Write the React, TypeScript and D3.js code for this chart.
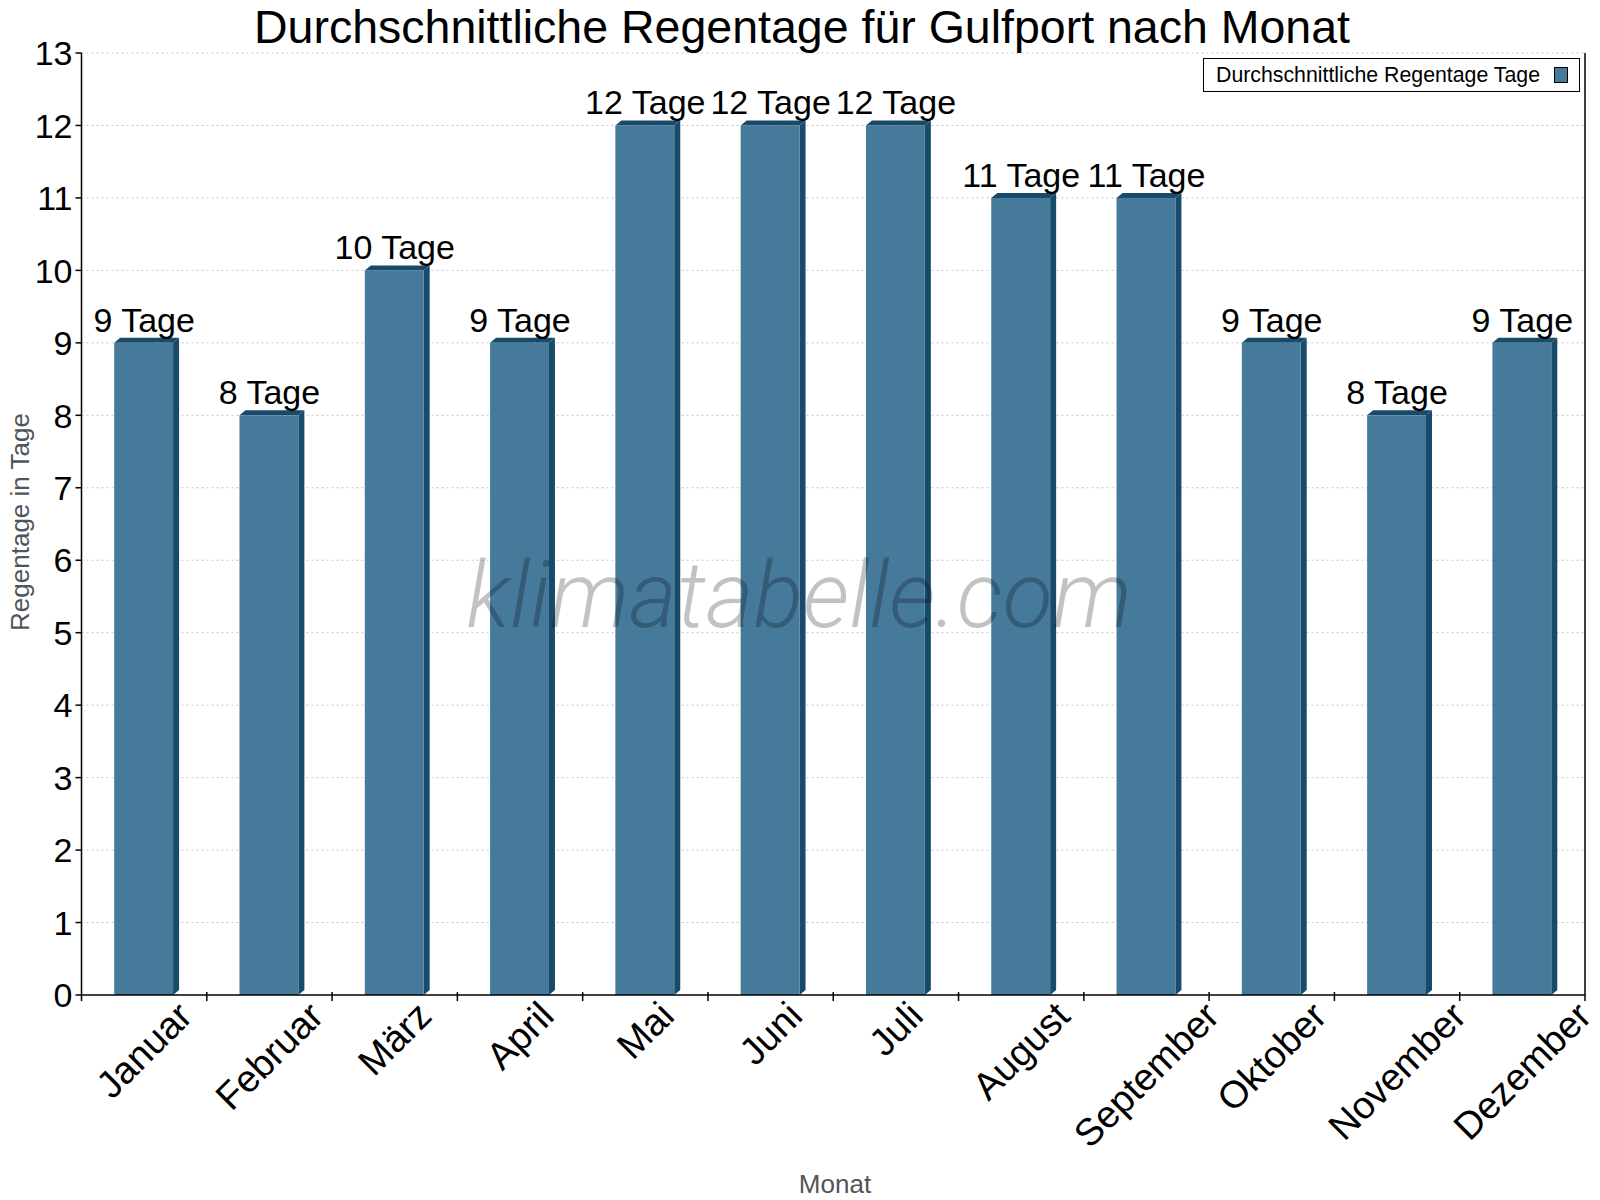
import React, {useEffect, useRef} from "react";
import * as d3 from "d3";

// Durchschnittliche Regentage, Gulfport
const months = ["Januar", "Februar", "März", "April", "Mai", "Juni", "Juli", "August", "September", "Oktober", "November", "Dezember"];
const rainDays = [9, 8, 10, 9, 12, 12, 12, 11, 11, 9, 8, 9];
const yTicks = [0, 1, 2, 3, 4, 5, 6, 7, 8, 9, 10, 11, 12, 13];

const title = "Durchschnittliche Regentage für Gulfport nach Monat";
const seriesName = "Durchschnittliche Regentage Tage";
const unit = "Tage";

const FONT = "'Liberation Sans', Arial, sans-serif";
const FRONT = "#467a9b";
const DARK = "#184a6b";

const W = 1600, H = 1200;
const left = 81.5, right = 1585, top = 53, bottom = 995;
const depthX = 6, depthY = 5;

const App = () => {
    const ref = useRef<SVGSVGElement>(null);

    useEffect(() => {
        const svg = d3.select(ref.current);
        svg.selectAll("*").remove();

        const x = d3.scaleBand<string>().domain(months).range([left, right]).padding(0);
        const y = d3.scaleLinear().domain([0, 13]).range([bottom, top]);
        const frontW = x.bandwidth() * 0.47;

        // grid
        svg.append("g").selectAll("line").data(yTicks.filter(d => d > 0)).join("line")
            .attr("x1", left).attr("x2", right)
            .attr("y1", d => y(d)).attr("y2", d => y(d))
            .attr("stroke", "#c4c4c4").attr("stroke-width", 1)
            .attr("stroke-dasharray", "2,3");

        // bars (pseudo 3d)
        const bars = svg.append("g").selectAll("g").data(months).join("g");
        bars.each(function (m, i) {
            const g = d3.select(this);
            const cx = x(m)! + x.bandwidth() / 2;
            const x0 = cx - frontW / 2 - 0.5, x1 = x0 + frontW;
            const yv = y(rainDays[i]);
            g.append("polygon")
                .attr("points", [[x1, yv], [x1 + depthX, yv - depthY], [x1 + depthX, bottom - depthY], [x1, bottom]].map(p => p.join(",")).join(" "))
                .attr("fill", DARK);
            g.append("polygon")
                .attr("points", [[x0, yv], [x0 + depthX, yv - depthY], [x1 + depthX, yv - depthY], [x1, yv]].map(p => p.join(",")).join(" "))
                .attr("fill", DARK);
            g.append("rect")
                .attr("x", x0).attr("y", yv)
                .attr("width", frontW).attr("height", bottom - yv)
                .attr("fill", FRONT);
        });

        // watermark
        svg.append("text")
            .attr("x", 799).attr("y", 627)
            .attr("text-anchor", "middle")
            .attr("font-family", "Roboto, sans-serif")
            .attr("font-weight", 300)
            .attr("font-style", "italic")
            .attr("font-size", 92)
            .attr("fill", "#000").attr("fill-opacity", 0.24)
            .text("klimatabelle.com");

        // value labels
        svg.append("g").selectAll("text").data(months).join("text")
            .attr("x", m => x(m)! + x.bandwidth() / 2)
            .attr("y", (m, i) => y(rainDays[i]) - 11)
            .attr("text-anchor", "middle")
            .attr("font-family", FONT).attr("font-size", 34)
            .attr("fill", "#000")
            .text((m, i) => `${rainDays[i]} ${unit}`);

        // axes
        const axes = svg.append("g").attr("stroke", "#000").attr("stroke-width", 1.5);
        axes.append("line").attr("x1", left).attr("x2", left).attr("y1", top).attr("y2", bottom + 6);
        axes.append("line").attr("x1", right).attr("x2", right).attr("y1", top).attr("y2", bottom + 6);
        axes.append("line").attr("x1", left).attr("x2", right).attr("y1", bottom).attr("y2", bottom);
        axes.selectAll(".yt").data(yTicks).join("line").attr("class", "yt")
            .attr("x1", left - 6).attr("x2", left).attr("y1", d => y(d)).attr("y2", d => y(d));
        axes.selectAll(".xt").data(months.slice(1)).join("line").attr("class", "xt")
            .attr("x1", m => x(m)!).attr("x2", m => x(m)!)
            .attr("y1", bottom - 3).attr("y2", bottom + 6);

        svg.append("g").selectAll("text").data(yTicks).join("text")
            .attr("x", left - 9).attr("y", d => y(d)).attr("dy", "0.36em")
            .attr("text-anchor", "end")
            .attr("font-family", FONT).attr("font-size", 34)
            .attr("fill", "#000")
            .text(d => d);

        // rotated month labels, bbox top-centred under the band
        const xl = svg.append("g");
        months.forEach(m => {
            const g = xl.append("g");
            g.append("text")
                .attr("text-anchor", "middle")
                .attr("transform", "rotate(-45)")
                .attr("font-family", FONT).attr("font-size", 38)
                .attr("fill", "#000")
                .text(m);
            const bb = (g.node() as SVGGElement).getBBox();
            const cx = x(m)! + x.bandwidth() / 2;
            g.attr("transform", `translate(${cx - (bb.x + bb.width / 2)},${994 - bb.y})`);
        });

        // axis titles
        svg.append("text")
            .attr("transform", "translate(29,522) rotate(-90)")
            .attr("text-anchor", "middle")
            .attr("font-family", FONT).attr("font-size", 26)
            .attr("fill", "#50555a")
            .text("Regentage in Tage");
        svg.append("text")
            .attr("x", 835).attr("y", 1193)
            .attr("text-anchor", "middle")
            .attr("font-family", FONT).attr("font-size", 26)
            .attr("fill", "#50555a")
            .text("Monat");

        // title
        svg.append("text")
            .attr("x", 802).attr("y", 42.5)
            .attr("text-anchor", "middle")
            .attr("font-family", FONT).attr("font-size", 46.5)
            .attr("fill", "#000")
            .text(title);

        // legend
        const lg = svg.append("g");
        lg.append("rect").attr("x", 1203.5).attr("y", 58.5).attr("width", 376).attr("height", 33)
            .attr("fill", "#fff").attr("stroke", "#000").attr("stroke-width", 1);
        lg.append("text").attr("x", 1216).attr("y", 82)
            .attr("font-family", FONT).attr("font-size", 21.3).attr("fill", "#000")
            .text(seriesName);
        lg.append("rect").attr("x", 1554.5).attr("y", 67.5).attr("width", 13).attr("height", 15)
            .attr("fill", FRONT).attr("stroke", "#000").attr("stroke-width", 1);
    }, []);

    return (
        <svg
            ref={ref}
            width={W}
            height={H}
            viewBox={`0 0 ${W} ${H}`}
            style={{position: "absolute", left: 0, top: 0, background: "#fff"}}
        />
    );
};

export default App;
